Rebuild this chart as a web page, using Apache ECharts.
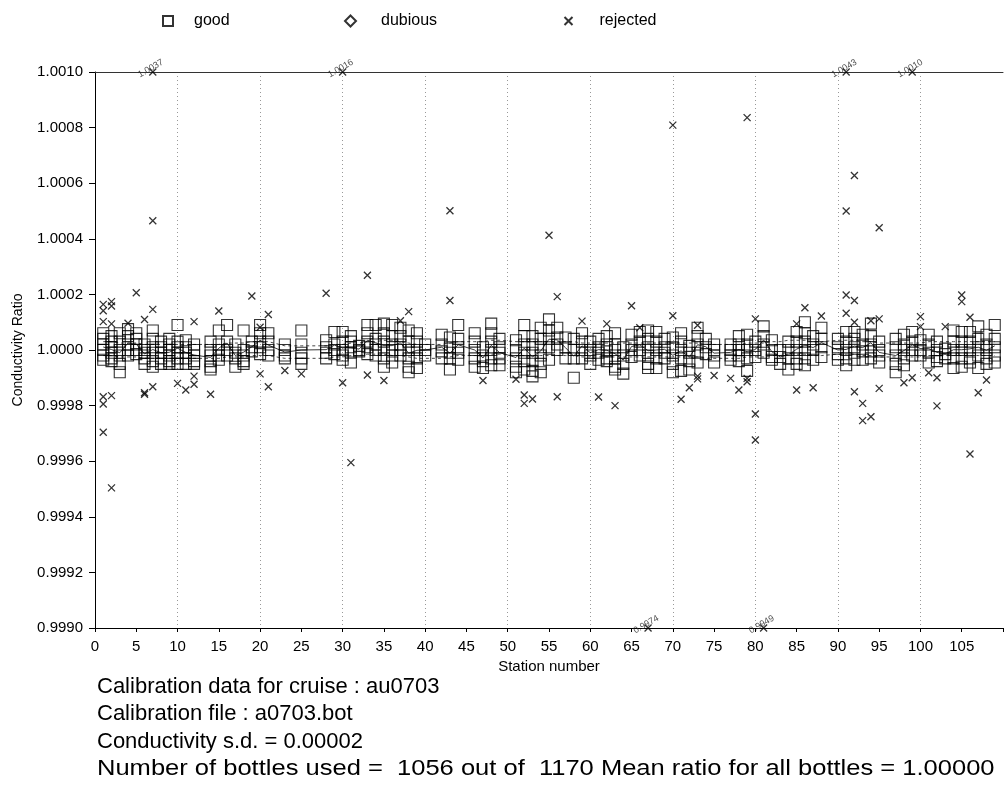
<!DOCTYPE html>
<html>
<head>
<meta charset="utf-8">
<script src="https://cdn.jsdelivr.net/npm/echarts@6/dist/echarts.min.js"></script>
<style>html,body{margin:0;padding:0;background:#fff}#c{width:1006px;height:801px}</style>
</head>
<body>
<div id="c"></div>
<script>
// ---- data (deviations from 1.0 in units of 1e-5) ----
const stations = [1,2,3,4,5,6,7,8,9,10,11,12,
  14,15,16,17,18,19,20,21,
  23,25,
  28,29,30,31,32,33,34,35,36,37,38,39,40,
  42,43,44,
  46,47,48,49,
  51,52,53,54,55,56,57,58,59,60,61,62,63,64,65,66,67,68,69,70,71,72,73,74,75,
  77,78,79,80,81,82,83,84,85,86,87,88,
  90,91,92,93,94,95,
  97,98,99,100,101,102,103,104,105,106,107,108,109];
const goodDevE5 = [
  [6,4,2,0,-2,-3.5],[5,3,1,-1,-3,-4],[6,3,0,-2,-5,-8],[7.5,5,2,0,-2],[6,4,2,0,-1.5],[2,0,-1,-3,-5],
  [7,4,1,-1,-4,-6],[3,1,-1,-3,-5],[4,2,0,-2,-4,-5],[9,3,1,-1,-3,-5],[3.5,1,-1,-3,-5],[2,0,-2,-4,-5],
  [3,0,-2,-4,-6,-7],[7,2,0,-2,-3.5],[9,3,0,-2],[2,-1,-3,-6],[7,0,-2,-4,-5],[3,1,-0.5],[9,6,3,1,-1.5],[6,3,0,-2],
  [2,0,-2,-3],[7,2,-1,-3,-5],
  [3.5,1,-1,-3],[6.5,2,0,-1.5],[6.5,3,0,-2,-3.5],[5,3,1,-1,-4.5],[1.5,0,-0.5],[9,6,3,1,-1.5],[9,4,2,0,-2],
  [9.5,6,3,0,-3,-6],[9,5,2,0,-2,-4.5],[8,5,2,0,-2],[7,3,0,-3,-6,-8],[6,3,0,-3,-6.5],[2,0,-2],
  [5.5,2,-0.5,-3],[4.5,1,-1,-3,-7],[9,4,1,-1,-3.5],
  [6,3,0,-3,-6],[1,-2,-4,-6.5],[9.5,6,3,0,-3,-5.5],[4,1,-1,-3,-5.5],
  [3.5,0,-3,-6,-8],[9,5,2,-1,-4,-7],[5,2,-1,-4,-7.5,-9.5],[8,4,1,-2,-5,-8],[11,7,4,1,-3.5],[8,4.5,2,0],
  [4.5,1,-3],[4,0,-3,-10],[6,3,0,-3],[3,0,-2,-5],[4,1,-1,-3.5],[5,2,-0.5,-3,-4],[6,2,0,-3,-6,-7],
  [1,-2,-5,-8.5],[5.5,2,0,-2.5],[6.5,3,0,-2],[7,4,1,-2,-5,-6.5],[6.5,3,0,-3,-6.5],[4,1,-1,-3],
  [4.5,1,-2,-5,-8],[6,3,0,-3,-7.5],[1.5,-1,-4,-7],[8,5,2,-1,-4.5],[4,1,-1.5],[2,0,-2,-4.5],
  [2,0,-2,-3.5],[5,2,0,-2,-4],[5.5,2,0,-3,-7.5],[3,0,-2.5],[8.5,5,2,-1],[3.5,0,-2.5,-3.5],[0,-2.5,-5],
  [3,0,-3,-7],[6.5,3,0,-3,-5],[10,6,3,0,-3,-5.5],[5,2,0,-3.5],[8,4,1,-2.5],
  [4,1,-1.5,-3.5],[6.5,3,0,-3,-5.5],[6.5,4,1,-1,-3.5],[5.5,2,-0.5,-3.5],[9.5,5,2,-0.5,-3],[3,0,-2,-4.5],
  [4,1,-2,-5,-8],[5.5,2,0,-3,-5.5],[6.5,3,0,-2],[3.5,0,-2],[5.5,2,-1,-4.5],[3,0,-2.5,-4],[0.5,-1.5,-3],
  [7,3,0,-3,-6.5],[6.5,3,0,-3,-6],[6.5,3,0,-3,-4.5],[8.5,4,1,-2,-6.5],[5.5,2,0,-3,-5],[9,4,1,-2,-4.5]
];
const upperDevE5 = [3,3,2.5,2.5,2.5,2,2,2,2,2,2,2,
  2,2,2.5,2.5,2.5,3,3,3,
  1.5,1.5,
  1.5,2,2,2.5,2.5,3,3,3.5,3.5,3,2.5,2,2,
  2,2.5,3,
  3,3,3.5,3.5,
  3,3,3,3,3,3,3,3,2.5,2.5,2.5,2.5,2.5,2.5,2.5,2.5,2.5,2.5,2.5,2.5,2.5,2.5,2.5,2,2,
  2,2,2.5,2.5,2.5,3,3,3.5,3.5,3.5,3,3,
  3.5,3.5,3.5,3,3,2.5,
  2.5,2.5,2.5,2.5,3,3,3,3,3,3,3,3,3];
const lowerDevE5 = [-2,-2,-2.5,-2.5,-2.5,-3,-3,-3,-3,-3,-3,-3,
  -3,-3,-2.5,-2.5,-2.5,-2,-2,-2,
  -3,-3,
  -3,-2.5,-2.5,-2,-2,-1.5,-1.5,-1.5,-2,-2,-2.5,-3,-3,
  -3,-2.5,-2,
  -2,-2,-1.5,-1.5,
  -2,-2,-2,-2,-2,-2,-2,-2,-2.5,-2.5,-2.5,-2.5,-2.5,-2.5,-2.5,-2.5,-2.5,-2.5,-2.5,-2.5,-2.5,-2.5,-2.5,-3,-3,
  -3,-3,-2.5,-2.5,-2.5,-2,-2,-1.5,-1.5,-1.5,-2,-2,
  -1.5,-1.5,-1.5,-2,-2,-2.5,
  -2.5,-2.5,-2.5,-2.5,-2,-2,-2,-2,-2,-2,-2,-2,-2];
// rejected bottles inside the plotted range: [station, deviation e-5]
const rejectedIn = [
  [1,16.4],[1,14.1],[2,17.4],[2,15.8],[1,10.2],[2,9.4],[5,20.6],[7,14.6],[4,9.6],[6,11.0],
  [1,-16.8],[1,-19.4],[2,-16.4],[1,-29.6],[2,-49.6],[6,-15.4],[6,-15.9],[7,-13.2],[10,-12.0],[11,-14.4],
  [12,-12.3],[12,-9.4],[12,10.2],[14,-15.9],[15,14.0],[19,19.4],[20,8.2],[20,-8.6],[21,12.8],[21,-13.2],
  [23,-7.4],[25,-8.6],[28,20.4],[30,-11.8],[31,-40.5],[33,26.9],[33,-9.0],[35,-11.0],[7,46.5],[43,50.1],
  [43,17.8],[55,41.3],[56,19.2],[70,80.9],[79,83.6],[92,62.8],[91,50.0],[95,44.0],[91,19.8],[92,17.8],
  [105,19.8],[105,17.4],[38,13.8],[37,10.5],[47,-11],[51,-10.5],[52,-16.2],[52,-19.2],[53,-17.6],[56,-16.8],
  [59,10.4],[61,-16.9],[62,9.4],[63,-20.0],[65,15.9],[66,8.0],[70,12.3],[71,-17.7],[72,-13.6],[73,8.9],
  [73,-9.4],[73,-10.4],[75,-9.2],[77,-10.2],[78,-14.4],[79,-10.2],[79,-11.4],[80,11.2],[80,-23.0],[80,-32.4],
  [85,9.4],[85,-14.4],[86,15.2],[87,-13.6],[88,12.2],[91,13.2],[92,10.0],[94,10.5],[95,11.2],[92,-15.0],
  [93,-19.2],[93,-25.4],[94,-24.0],[95,-13.8],[98,-11.8],[99,-10],[100,12.0],[100,8.4],[101,-8.2],[102,-10],
  [102,-20.1],[103,8.4],[106,11.8],[106,-37.4],[107,-15.4],[108,-10.8]
];
// rejected bottles outside the plotted range: station, actual ratio
const rejectedOutStations = [7, 30, 91, 99, 67, 81];
const rejectedOutValues = [1.0037, 1.0016, 1.0043, 1.0010, 0.9974, 0.9949];
const yMin = 0.9990, yMax = 1.0010;
const infoLines = [
  'Calibration data for cruise : au0703',
  'Calibration file : a0703.bot',
  'Conductivity s.d. = 0.00002',
  'Number of bottles used =  1056 out of  1170 Mean ratio for all bottles = 1.00000'
];

// ---- build ----
const toRatio = d => 1 + d * 1e-5;
const goodData = [];
stations.forEach((s, i) => goodDevE5[i].forEach(d => goodData.push([s, toRatio(d)])));
const meanData = stations.map((s, i) => [s, toRatio(goodDevE5[i].reduce((a, b) => a + b, 0) / goodDevE5[i].length)]);
const upperData = stations.map((s, i) => [s, toRatio(upperDevE5[i])]);
const lowerData = stations.map((s, i) => [s, toRatio(lowerDevE5[i])]);
const rejData = rejectedIn.map(p => [p[0], toRatio(p[1])]);
const rejOutData = rejectedOutStations.map((s, i) => ({
  value: [s, Math.min(yMax, Math.max(yMin, rejectedOutValues[i]))],
  actual: rejectedOutValues[i]
}));

const FONT = 'Liberation Sans, Arial, sans-serif';
const crossPath = 'path://M0,0L10,10M0,10L10,0';
const chart = echarts.init(document.getElementById('c'), null, {renderer: 'canvas'});
chart.setOption({
  animation: false,
  backgroundColor: '#fff',
  textStyle: {fontFamily: FONT},
  grid: {left: 95, top: 72, right: -6, bottom: 173, containLabel: false},
  legend: [
    {data: ['good'], left: 157, top: 8, itemWidth: 10, itemHeight: 10, itemGap: 0,
     textStyle: {fontSize: 16, color: '#000', fontFamily: FONT, padding: [0, 0, 0, 16]}},
    {data: ['dubious'], left: 339, top: 8, itemWidth: 11, itemHeight: 11, itemGap: 0,
     textStyle: {fontSize: 16, color: '#000', fontFamily: FONT, padding: [0, 0, 0, 20]}},
    {data: ['rejected'], left: 557, top: 8, itemWidth: 8, itemHeight: 8, itemGap: 0,
     textStyle: {fontSize: 16, color: '#000', fontFamily: FONT, padding: [0, 0, 0, 22]}}
  ],
  xAxis: [
    {type: 'value', min: 0, max: 110, interval: 5, position: 'bottom',
     name: 'Station number', nameLocation: 'middle', nameGap: 25,
     nameTextStyle: {fontSize: 15, color: '#000', fontFamily: FONT},
     axisLine: {show: true, onZero: false, lineStyle: {color: '#000', width: 1}},
     axisTick: {show: true, length: 4, lineStyle: {color: '#000'}},
     axisLabel: {fontSize: 15, color: '#000', margin: 11, fontFamily: FONT,
       formatter: v => (v % 5 === 0 && v <= 105) ? String(v) : ''},
     splitLine: {show: false}},
    {type: 'value', min: 0, max: 110, interval: 10, position: 'top',
     axisLine: {show: true, onZero: false, lineStyle: {color: '#333', width: 1}},
     axisTick: {show: false}, axisLabel: {show: false},
     splitLine: {show: true, showMinLine: false, showMaxLine: false,
       lineStyle: {color: '#999', type: [1, 3], width: 1}}}
  ],
  yAxis: {type: 'value', min: yMin, max: yMax, interval: 0.0002,
    name: 'Conductivity Ratio', nameLocation: 'middle', nameGap: 70, nameRotate: 90,
    nameTextStyle: {fontSize: 14, color: '#000', fontFamily: FONT},
    axisLine: {show: true, onZero: false, lineStyle: {color: '#000', width: 1}},
    axisTick: {show: true, length: 6, lineStyle: {color: '#000'}},
    axisLabel: {fontSize: 15, color: '#000', margin: 12, fontFamily: FONT,
      formatter: v => v.toFixed(4)},
    splitLine: {show: false}},
  series: [
    {name: 'upper', type: 'line', data: upperData, symbol: 'none', silent: true,
     lineStyle: {color: '#333', width: 0.9, type: [3, 3]}, z: 3},
    {name: 'lower', type: 'line', data: lowerData, symbol: 'none', silent: true,
     lineStyle: {color: '#333', width: 0.9, type: [3, 3]}, z: 3},
    {name: 'mean', type: 'line', data: meanData, symbol: 'none', silent: true,
     lineStyle: {color: '#222', width: 0.9}, z: 3},
    {name: 'good', type: 'scatter', data: goodData, symbol: 'rect', symbolSize: 11,
     itemStyle: {color: 'rgba(255,255,255,0)', borderColor: '#000', borderWidth: 1.1}, z: 4},
    {name: 'dubious', type: 'scatter', data: [], symbol: 'diamond', symbolSize: 10,
     itemStyle: {color: 'rgba(255,255,255,0)', borderColor: '#000', borderWidth: 1}},
    {name: 'rejected', type: 'scatter', data: rejData, symbol: crossPath, symbolSize: 7,
     itemStyle: {color: 'none', borderColor: '#000', borderWidth: 1.3}, z: 5},
    {name: 'rejectedOut', type: 'scatter', data: rejOutData, symbol: crossPath, symbolSize: 7,
     clip: false, itemStyle: {color: 'none', borderColor: '#000', borderWidth: 1.3}, z: 6,
     label: {show: true, position: 'inside', rotate: 30, offset: [0, -4], fontSize: 9,
       color: '#222', fontFamily: FONT,
       formatter: p => p.data.actual.toFixed(4)}}
  ],
  graphic: infoLines.map((t, i) => ({
    type: 'text', left: 97, top: 676 + i * 27.4,
    scaleX: i === 3 ? 1.16 : 1,
    style: {text: t, fontSize: 22, fill: '#000', fontFamily: FONT}
  }))
});
</script>
</body>
</html>
